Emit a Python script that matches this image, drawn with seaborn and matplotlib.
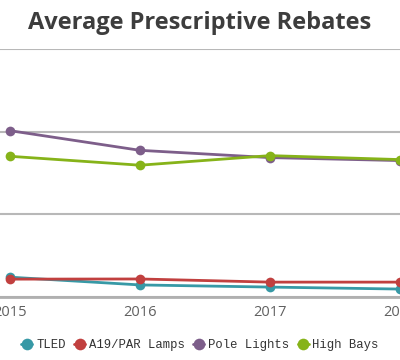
import pandas as pd
import matplotlib.pyplot as plt
import seaborn as sns

years = [2015, 2016, 2017, 2018]
tled = [12.0, 7.3, 6.0, 4.8]
a19_par = [10.8, 10.9, 9.0, 9.0]
pole_lights = [100.6, 88.7, 84.3, 82.5]
high_bays = [85.1, 79.7, 85.5, 83.1]

series_names = ['TLED', 'A19/PAR Lamps', 'Pole Lights', 'High Bays']
series_values = [tled, a19_par, pole_lights, high_bays]
colors = ['#3799a6', '#c1403f', '#7d5e8a', '#86b319']

rows = []
for name, vals in zip(series_names, series_values):
    for yr, v in zip(years, vals):
        rows.append({'Year': yr, 'Rebate': v, 'Type': name})
df = pd.DataFrame(rows)

sns.set_style('white')
plt.rcParams['font.family'] = ['Open Sans', 'DejaVu Sans']

fig = plt.figure(figsize=(4, 3.6), dpi=100)
ax = fig.add_axes([0, 0.175, 1, 0.689])

sns.lineplot(data=df, x='Year', y='Rebate', hue='Type', hue_order=series_names,
             palette=dict(zip(series_names, colors)), marker='o', markersize=7,
             markeredgewidth=0, linewidth=2, ax=ax)

ax.set_xlim(2014.924, 2017.977)
ax.set_ylim(0, 150)
ax.set_yticks([0, 50, 100, 150])
ax.set_yticklabels([])
ax.yaxis.grid(True, color='#b8b8b8', linewidth=1.5)
ax.set_axisbelow(True)
ax.tick_params(axis='y', length=0)

ax.set_xticks(years)
ax.set_xticklabels([str(y) for y in years], fontsize=10.5, color='#606060')
ax.tick_params(axis='x', length=4, color='#b0b0b0', width=1, pad=2)

for s in ['top', 'left', 'right']:
    ax.spines[s].set_visible(False)
ax.spines['bottom'].set_color('#b0b0b0')
ax.spines['bottom'].set_linewidth(2)

ax.set_xlabel('')
ax.set_ylabel('')

fig.text(0.5, 0.935, 'Average Prescriptive Rebates', ha='center', va='center',
         fontsize=17, fontweight='bold', color='#3d3d3d')

handles, labels = ax.get_legend_handles_labels()
ax.legend(handles, labels, loc='center', bbox_to_anchor=(0.5, -0.195), ncol=4,
          frameon=False, prop={'family': 'Liberation Mono', 'size': 8.8},
          handlelength=0.9, handletextpad=0.3, columnspacing=0.7,
          markerscale=1.2, labelcolor='#333333')

plt.savefig('out.png', dpi=100)
